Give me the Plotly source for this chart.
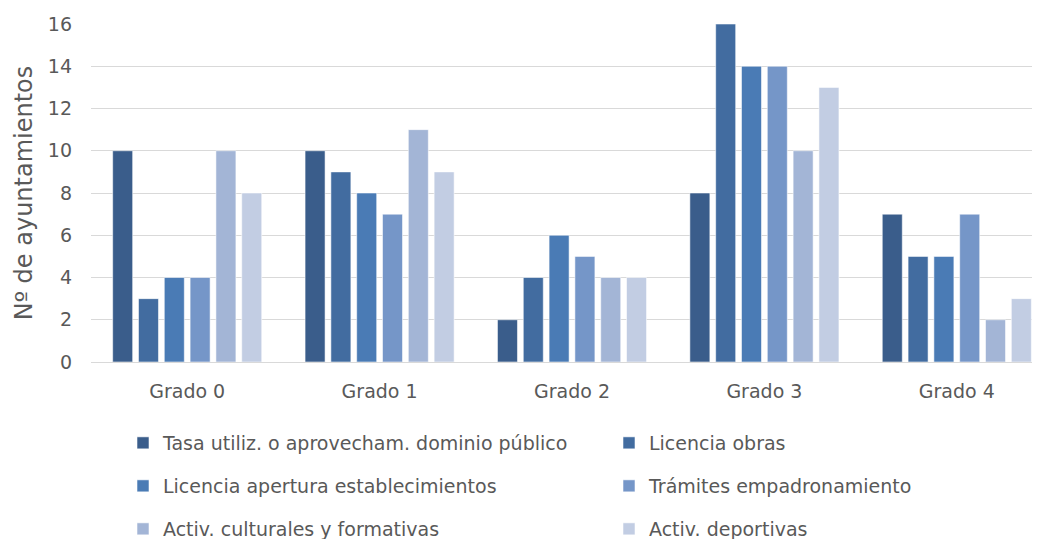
import plotly.graph_objects as go

categories = ["Grado 0", "Grado 1", "Grado 2", "Grado 3", "Grado 4"]
series_names = [
    "Tasa utiliz. o aprovecham. dominio público",
    "Licencia obras",
    "Licencia apertura establecimientos",
    "Trámites empadronamiento",
    "Activ. culturales y formativas",
    "Activ. deportivas",
]
tasa = [10, 10, 2, 8, 7]
lic_obras = [3, 9, 4, 16, 5]
lic_apertura = [4, 8, 6, 14, 5]
tramites = [4, 7, 5, 14, 7]
culturales = [10, 11, 4, 10, 2]
deportivas = [8, 9, 4, 13, 3]
values = [tasa, lic_obras, lic_apertura, tramites, culturales, deportivas]
colors = ["#3A5D8B", "#426CA0", "#4A7BB5", "#7596C8", "#A3B5D6", "#C2CDE3"]
y_ticks = [0, 2, 4, 6, 8, 10, 12, 14, 16]

FONT = "DejaVu Sans"
TXT = "#595959"
OFF = 8  # page body margin offset
W, H = 1040 - OFF, 539 - OFF
L, T = 91 - OFF, 24 - OFF
B = 539 - 362
PW = W - L
PH = H - T - B

legend_keys = ["legend", "legend2", "legend3", "legend4", "legend5", "legend6"]
# legend positions (reference pixels): legend left edge, row centre
legend_px = [(123, 443), (609, 443), (123, 486), (609, 486), (123, 529), (609, 529)]

fig = go.Figure()
for name, vals, col, lk in zip(series_names, values, colors, legend_keys):
    fig.add_trace(go.Bar(
        x=categories, y=vals, name=name, legend=lk, showlegend=True,
        marker=dict(color=col, line=dict(color="rgba(255,255,255,0.55)", width=1)),
    ))

legends = {}
for lk, (px, pyy) in zip(legend_keys, legend_px):
    legends[lk] = dict(
        x=(px - OFF - L) / PW, y=(H - B - (pyy - OFF)) / PH,
        xanchor="left", yanchor="middle", orientation="h",
        font=dict(family=FONT, size=19, color=TXT),
        bgcolor="rgba(0,0,0,0)", visible=True,
    )

fig.update_layout(
    width=W, height=H, showlegend=True,
    margin=dict(l=L, r=0, t=T, b=B, autoexpand=False),
    paper_bgcolor="white", plot_bgcolor="white",
    barmode="group", bargap=0.195, bargroupgap=0.225,
    font=dict(family=FONT, color=TXT),
    xaxis=dict(
        range=[-0.5, -0.5 + PW / 192.4], showgrid=False, showline=False, ticks="",
        tickfont=dict(family=FONT, size=19, color=TXT), ticklabelstandoff=16,
        automargin=False, fixedrange=True,
    ),
    yaxis=dict(
        range=[0, 16], tickvals=y_ticks, showgrid=True, gridcolor="#D9D9D9", gridwidth=1.3,
        zeroline=True, zerolinecolor="#D9D9D9", zerolinewidth=1.3,
        tickfont=dict(family=FONT, size=19, color=TXT), ticks="",
        ticklabelstandoff=18, automargin=False, fixedrange=True,
        title=dict(text="Nº de ayuntamientos", font=dict(family=FONT, size=24, color=TXT), standoff=8),
    ),
    **legends,
)

fig.write_html("out.html")
